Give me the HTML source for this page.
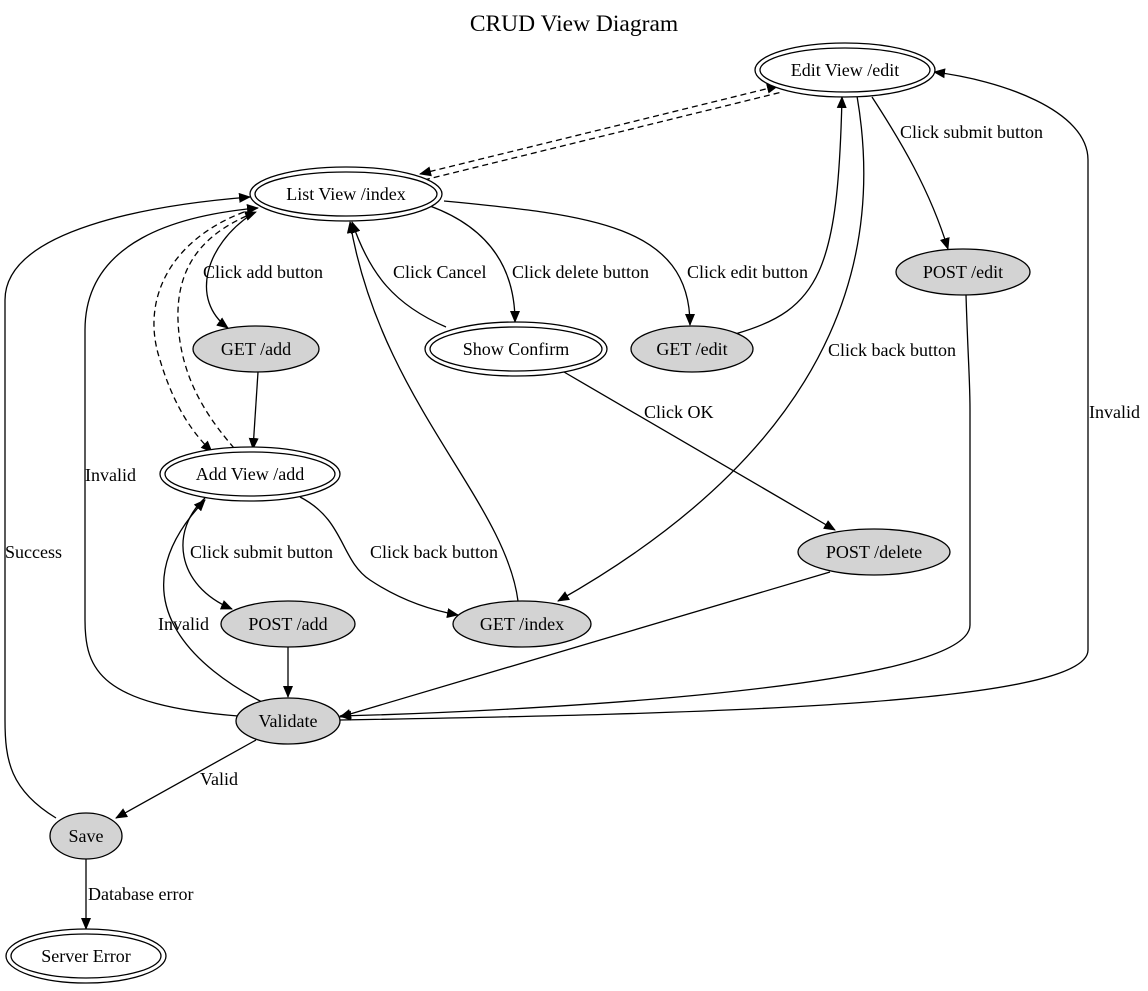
<!DOCTYPE html>
<html><head><meta charset="utf-8"><style>
html,body{margin:0;padding:0;background:#fff;}
svg{display:block;font-family:"Liberation Serif",serif;}
text{font-size:18px;fill:#000;}
</style></head><body>
<svg width="1148" height="991" viewBox="0 0 1148 991" xmlns="http://www.w3.org/2000/svg">
<defs>
<marker id="a" markerWidth="12" markerHeight="10" refX="11" refY="5" orient="auto" markerUnits="userSpaceOnUse"><path d="M0,0 L12,5 L0,10 Z" fill="#000"/></marker>
<marker id="b" markerWidth="12" markerHeight="10" refX="1" refY="5" orient="auto" markerUnits="userSpaceOnUse"><path d="M12,0 L0,5 L12,10 Z" fill="#000"/></marker>
</defs>
<rect width="1148" height="991" fill="#fff"/>
<text x="574" y="31" text-anchor="middle" style="font-size:23.5px">CRUD View Diagram</text>
<g fill="none" stroke="#000" stroke-width="1.3">
<path d="M420,174 L778,86" stroke-dasharray="6,4" marker-end="url(#a)" marker-start="url(#b)"/>
<path d="M424,180 L782,92" stroke-dasharray="6,4"/>
<path d="M252,214 C205,245 190,300 228,328" marker-end="url(#a)"/>
<path d="M244,212 C170,240 140,300 160,360 C175,410 195,435 212,452" stroke-dasharray="6,4" marker-end="url(#a)"/>
<path d="M234,448 C210,420 180,380 178,320 C176,260 210,230 256,212" stroke-dasharray="6,4" marker-end="url(#a)"/>
<path d="M430,206 C495,230 515,275 515,322" marker-end="url(#a)"/>
<path d="M446,327 C395,305 370,275 352,222" marker-end="url(#a)"/>
<path d="M444,201 C590,215 690,225 690,325" marker-end="url(#a)"/>
<path d="M735,334 C820,310 838,270 842,97" marker-end="url(#a)"/>
<path d="M872,97 C900,140 930,190 948,249" marker-end="url(#a)"/>
<path d="M857,96 C880,230 860,430 558,601" marker-end="url(#a)"/>
<path d="M966,295 C968,360 970,380 970,410 L970,625 C970,690 500,712 340,716" marker-end="url(#a)"/>
<path d="M340,720 C700,714 1088,705 1088,650 L1088,160 C1088,110 1000,80 934,72" marker-end="url(#a)"/>
<path d="M258,372 L253,449" marker-end="url(#a)"/>
<path d="M564,372 L835,530" marker-end="url(#a)"/>
<path d="M205,498 C170,530 175,585 232,609" marker-end="url(#a)"/>
<path d="M300,497 C345,520 340,560 370,580 C400,600 430,610 458,615" marker-end="url(#a)"/>
<path d="M518,601 C505,500 380,400 350,222" marker-end="url(#a)"/>
<path d="M830,572 L340,717" marker-end="url(#a)"/>
<path d="M288,647 L288,697" marker-end="url(#a)"/>
<path d="M262,702 C200,670 110,600 205,500" marker-end="url(#a)"/>
<path d="M238,716 C100,705 85,670 85,620 L85,330 C85,240 180,215 258,208" marker-end="url(#a)"/>
<path d="M56,818 C10,790 5,760 5,720 L5,300 C5,230 150,205 250,197" marker-end="url(#a)"/>
<path d="M256,740 L116,818" marker-end="url(#a)"/>
<path d="M86,859 L86,929" marker-end="url(#a)"/>
</g>
<g stroke="#000" stroke-width="1.3">
<ellipse cx="845" cy="70" rx="90" ry="27" fill="#fff"/><ellipse cx="845" cy="70" rx="85" ry="22" fill="none"/>
<ellipse cx="346" cy="194" rx="96" ry="27" fill="#fff"/><ellipse cx="346" cy="194" rx="91" ry="22" fill="none"/>
<ellipse cx="256" cy="349" rx="63" ry="23" fill="#d3d3d3"/>
<ellipse cx="516" cy="349" rx="91" ry="27" fill="#fff"/><ellipse cx="516" cy="349" rx="86" ry="22" fill="none"/>
<ellipse cx="692" cy="349" rx="61" ry="23" fill="#d3d3d3"/>
<ellipse cx="963" cy="272" rx="67" ry="23" fill="#d3d3d3"/>
<ellipse cx="250" cy="474" rx="90" ry="27" fill="#fff"/><ellipse cx="250" cy="474" rx="85" ry="22" fill="none"/>
<ellipse cx="874" cy="552" rx="76" ry="23" fill="#d3d3d3"/>
<ellipse cx="288" cy="624" rx="67" ry="23" fill="#d3d3d3"/>
<ellipse cx="522" cy="624" rx="69" ry="23" fill="#d3d3d3"/>
<ellipse cx="288" cy="721" rx="52" ry="23" fill="#d3d3d3"/>
<ellipse cx="86" cy="836" rx="36" ry="23" fill="#d3d3d3"/>
<ellipse cx="86" cy="956" rx="80" ry="27" fill="#fff"/><ellipse cx="86" cy="956" rx="75" ry="22" fill="none"/>
</g>
<g text-anchor="middle">
<text x="845" y="76">Edit View /edit</text>
<text x="346" y="200">List View /index</text>
<text x="256" y="355">GET /add</text>
<text x="516" y="355">Show Confirm</text>
<text x="692" y="355">GET /edit</text>
<text x="963" y="278">POST /edit</text>
<text x="250" y="480">Add View /add</text>
<text x="874" y="558">POST /delete</text>
<text x="288" y="630">POST /add</text>
<text x="522" y="630">GET /index</text>
<text x="288" y="727">Validate</text>
<text x="86" y="842">Save</text>
<text x="86" y="962">Server Error</text>
</g>
<g>
<text x="203" y="278">Click add button</text>
<text x="393" y="278">Click Cancel</text>
<text x="512" y="278">Click delete button</text>
<text x="687" y="278">Click edit button</text>
<text x="900" y="138">Click submit button</text>
<text x="828" y="356">Click back button</text>
<text x="644" y="418">Click OK</text>
<text x="1089" y="418">Invalid</text>
<text x="85" y="481">Invalid</text>
<text x="5" y="558">Success</text>
<text x="190" y="558">Click submit button</text>
<text x="370" y="558">Click back button</text>
<text x="158" y="630">Invalid</text>
<text x="200" y="785">Valid</text>
<text x="88" y="900">Database error</text>
</g>
</svg>
</body></html>
